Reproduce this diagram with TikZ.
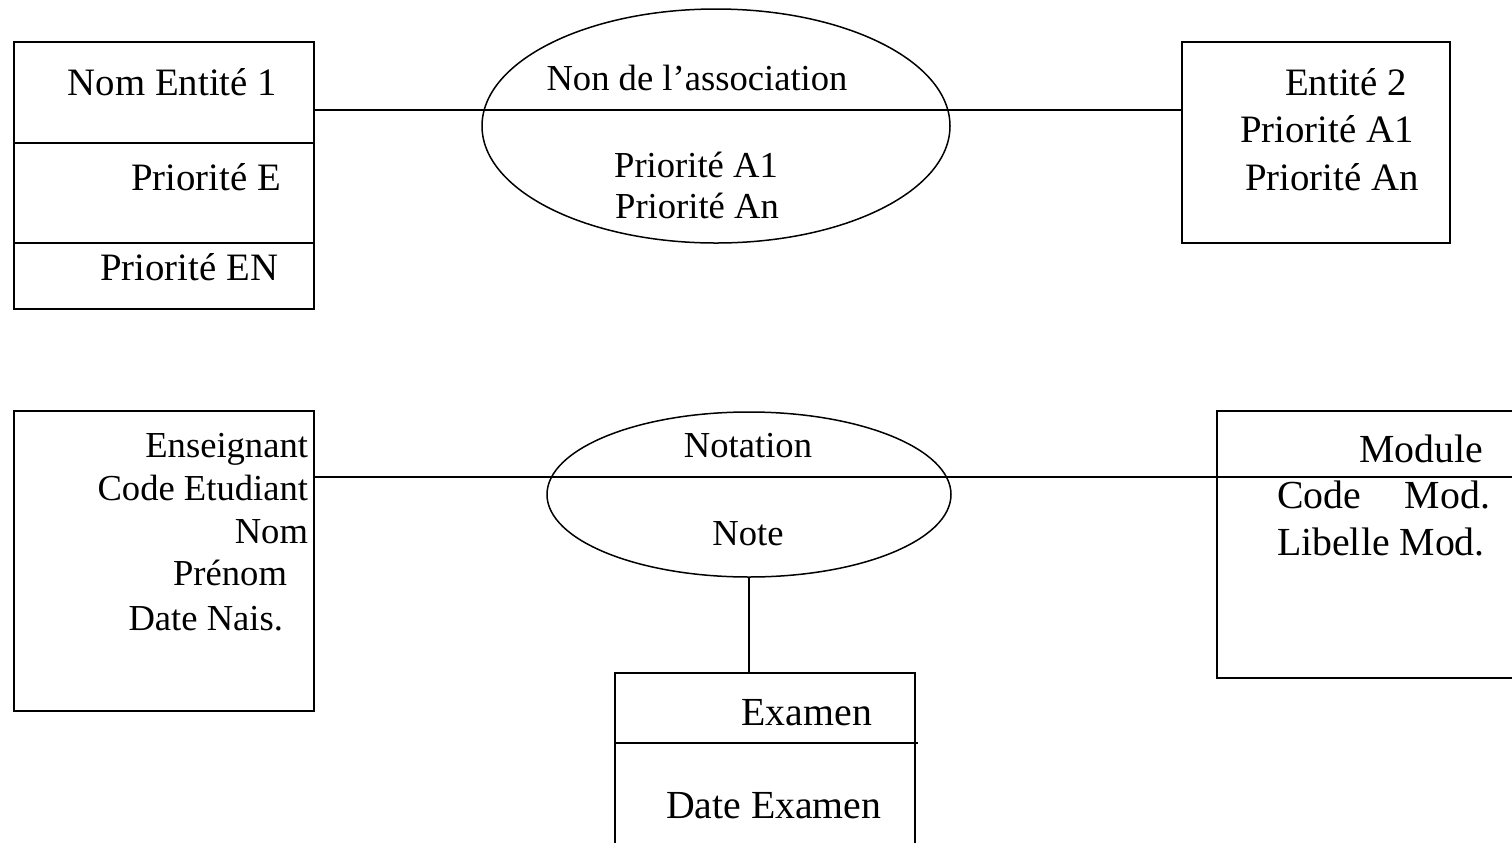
\documentclass[tikz,border=0pt]{standalone}
\usepackage{fontspec}
\setmainfont{Liberation Serif}
\usetikzlibrary{fit,shapes.geometric}
\begin{document}
\begin{tikzpicture}[x=0.5pt,y=-0.5pt, line width=0.75pt,
  every node/.style={inner sep=0pt, outer sep=0pt},
  box/.style={draw, rectangle, inner sep=0pt},
  assoc/.style={draw, ellipse, inner sep=0pt},
  lbl/.style={font=\fontsize{19.4pt}{23pt}\selectfont},
  lblsm/.style={font=\fontsize{18.3pt}{22pt}\selectfont},
  lbllg/.style={font=\fontsize{19.9pt}{24pt}\selectfont}]
\useasboundingbox (0,0) rectangle (1512,842);
\clip (0,0) rectangle (1512,842);

% ---- generic pattern: entity -- association -- entity ----
\node[box, fit={(14,42) (314,309)}] (ent1) {};
\draw (ent1.west |- 0,143) -- (ent1.east |- 0,143);
\draw (ent1.west |- 0,243) -- (ent1.east |- 0,243);
\node[lbl, anchor=base east] (ent1name) at (277,95) {Nom Entité 1};
\node[lbl, anchor=base east] (ent1p1) at (281,190) {Priorité E};
\node[lbl, anchor=base east] (ent1p2) at (278,280) {Priorité EN};

\node[assoc, minimum width=234pt, minimum height=117pt] (asso) at (716,126) {};
\node[lblsm, anchor=base] (asson) at (697,90) {Non de l’association};
\node[lblsm, anchor=base] (assop1) at (696,177) {Priorité A1};
\node[lblsm, anchor=base] (assop2) at (697,218) {Priorité An};

\node[box, fit={(1182,42) (1450,243)}] (ent2) {};
\node[lbl, anchor=base east] (ent2name) at (1407,95) {Entité 2};
\node[lbl, anchor=base west] (ent2p1) at (1240,142) {Priorité A1};
\node[lbl, anchor=base west] (ent2p2) at (1245,190) {Priorité An};

\draw (ent1.east |- 0,110) -- (ent2.west |- 0,110);

% ---- example: Enseignant -- Notation -- Module, with Examen ----
\node[box, fit={(14,411) (314,711)}] (ens) {};
\node[lblsm, anchor=base east] (ens1) at (308,457) {Enseignant};
\node[lblsm, anchor=base east] (ens2) at (308,500) {Code Etudiant};
\node[lblsm, anchor=base east] (ens3) at (308,543) {Nom};
\node[lblsm, anchor=base east] (ens4) at (287,585) {Prénom};
\node[lblsm, anchor=base east] (ens5) at (283,630) {Date Nais.};

\node[assoc, minimum width=202pt, minimum height=82.5pt] (nota) at (749,494.5) {};
\node[lblsm, anchor=base] (notan) at (748,457) {Notation};
\node[lblsm, anchor=base] (notap) at (748,545) {Note};

\node[box, fit={(1217,411) (1600,678)}] (mod) {};
\node[lbllg, anchor=base east] (mod1) at (1483,462) {Module};
\node[lbllg, anchor=base west] (mod2a) at (1277,508) {Code};
\node[lbllg, anchor=base east] (mod2b) at (1490,508) {Mod.};
\node[lbllg, anchor=base west] (mod3) at (1277,555) {Libelle Mod.};

\draw (ens.east |- 0,477) -- (mod.east |- 0,477);

\node[box, fit={(615,673) (915,900)}] (exa) {};
\draw (exa.west |- 0,743) -- (918,743);
\node[lbllg, anchor=base east] (exa1) at (872,725) {Examen};
\node[lbllg, anchor=base west] (exa2) at (666,818) {Date Examen};

\draw (nota.south) -- (nota.south |- exa.north);
\end{tikzpicture}
\end{document}
